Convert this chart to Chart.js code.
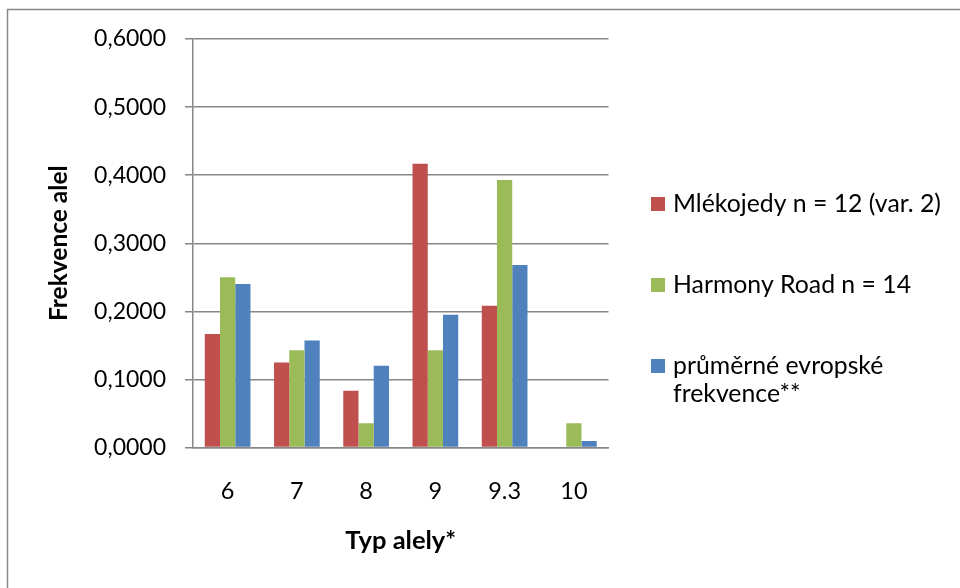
<!DOCTYPE html>
<html lang="cs">
<head>
<meta charset="utf-8">
<title>Frekvence alel</title>
<script src="https://cdn.jsdelivr.net/npm/chart.js@4.4.1/dist/chart.umd.min.js"></script>
<style>
  html, body { margin: 0; padding: 0; background: #ffffff; }
  #wrap { position: relative; width: 960px; height: 588px; }
  canvas { display: block; }
</style>
</head>
<body>
<div id="wrap"><canvas id="chart" width="960" height="588"></canvas></div>
<script>
// Alelové typy a jejich frekvence
const categories = ['6', '7', '8', '9', '9.3', '10'];
const mlekojedy = [0.1667, 0.1250, 0.0833, 0.4167, 0.2083, 0.0000];
const harmonyRoad = [0.2500, 0.1429, 0.0357, 0.1429, 0.3929, 0.0357];
const evropske = [0.2400, 0.1570, 0.1200, 0.1950, 0.2680, 0.0095];
const yTicks = [0, 0.1, 0.2, 0.3, 0.4, 0.5, 0.6];

const seriesLabels = ['Mlékojedy n = 12 (var. 2)', 'Harmony Road n = 14', 'průměrné evropské frekvence**'];
const seriesColors = ['#C0504D', '#9BBB59', '#4F81BD'];

const FONT = 'Lato, "Open Sans", sans-serif';
const GRID = '#878787';

// Rámeček kolem celého grafu
const framePlugin = {
  id: 'frame',
  beforeDraw(chart) {
    const ctx = chart.ctx;
    ctx.save();
    ctx.strokeStyle = GRID;
    ctx.lineWidth = 1.5;
    ctx.beginPath();
    ctx.moveTo(7.5, chart.height);
    ctx.lineTo(7.5, 9.5);
    ctx.lineTo(chart.width, 9.5);
    ctx.stroke();
    ctx.restore();
  }
};

// Legenda vpravo se zalamováním dlouhých popisků
const sideLegend = {
  id: 'sideLegend',
  afterDraw(chart) {
    const ctx = chart.ctx;
    const x = 651, box = 14, textX = 673, maxW = 280, lineH = 28;
    const centers = [204, 285, 366];
    ctx.save();
    ctx.font = '24.8px ' + FONT;
    ctx.textBaseline = 'middle';
    ctx.fillStyle = '#000';
    chart.data.datasets.forEach((ds, i) => {
      const cy = centers[i];
      ctx.fillStyle = ds.backgroundColor;
      ctx.fillRect(x, cy - box / 2, box, box);
      ctx.fillStyle = '#000';
      const words = ds.label.split(' ');
      const lines = [];
      let cur = '';
      words.forEach(w => {
        const test = cur ? cur + ' ' + w : w;
        if (ctx.measureText(test).width > maxW && cur) { lines.push(cur); cur = w; }
        else cur = test;
      });
      if (cur) lines.push(cur);
      lines.forEach((ln, j) => ctx.fillText(ln, textX, cy + j * lineH));
    });
    ctx.restore();
  }
};

new Chart(document.getElementById('chart'), {
  type: 'bar',
  data: {
    labels: categories,
    datasets: [
      { label: seriesLabels[0], data: mlekojedy, backgroundColor: seriesColors[0] },
      { label: seriesLabels[1], data: harmonyRoad, backgroundColor: seriesColors[1] },
      { label: seriesLabels[2], data: evropske, backgroundColor: seriesColors[2] }
    ]
  },
  options: {
    responsive: false,
    animation: false,
    devicePixelRatio: 1,
    layout: { padding: { left: 0, top: 39, right: 351.5, bottom: 0 } },
    datasets: { bar: { categoryPercentage: 0.66, barPercentage: 1, borderWidth: 0 } },
    plugins: { legend: { display: false }, tooltip: { enabled: false } },
    scales: {
      x: {
        afterFit(scale) { scale.height = 140.5; },
        grid: { display: false, drawTicks: false },
        border: { display: true, color: GRID, width: 1.5 },
        ticks: { color: '#000', font: { family: FONT, size: 23.5 }, padding: 30, maxRotation: 0 },
        title: {
          display: true, text: 'Typ alely*', color: '#000',
          font: { family: FONT, size: 25.5, weight: 'bold' },
          padding: { top: 0, bottom: 32 }
        }
      },
      y: {
        min: 0, max: 0.6,
        afterFit(scale) { scale.width = 193; },
        afterBuildTicks(scale) { scale.ticks = yTicks.map(v => ({ value: v })); },
        grid: { color: GRID, lineWidth: 1.5, drawTicks: true, tickLength: 8, tickColor: GRID },
        border: { display: true, color: GRID, width: 1.5 },
        ticks: {
          color: '#000', font: { family: FONT, size: 23 }, padding: 19,
          callback: v => v.toFixed(4).replace('.', ',')
        },
        title: {
          display: true, text: 'Frekvence alel', color: '#000',
          font: { family: FONT, size: 24.5, weight: 'bold' },
          padding: { top: 44, bottom: 0 }
        }
      }
    }
  },
  plugins: [framePlugin, sideLegend]
});
</script>
</body>
</html>
